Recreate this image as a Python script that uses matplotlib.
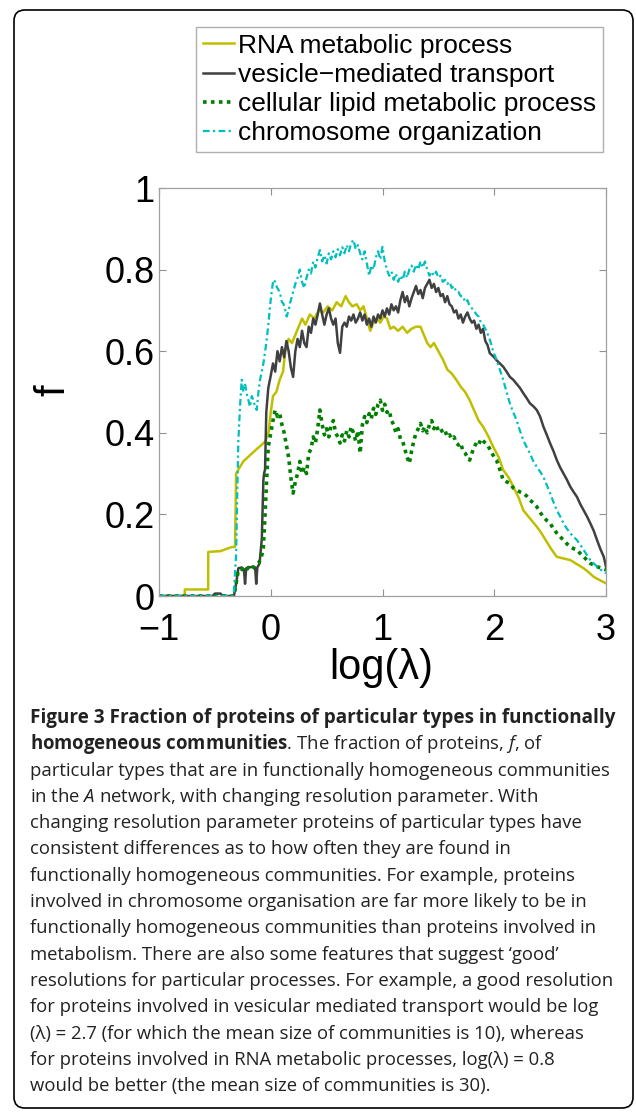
import matplotlib
matplotlib.use("Agg")
import matplotlib.pyplot as plt
from matplotlib.patches import FancyBboxPatch

# ------------------------------------------------------------------
# data (x = log(lambda), y = f)
# ------------------------------------------------------------------
rna_x = [-1.0, -0.77, -0.769, -0.56, -0.559, -0.45, -0.35, -0.32, -0.315, -0.31, -0.29,
         -0.245, -0.186, -0.126, -0.051, -0.02, 0.0, 0.02, 0.05, 0.08, 0.11, 0.13, 0.16,
         0.19, 0.22, 0.25, 0.28, 0.31, 0.35, 0.39, 0.43, 0.47, 0.51, 0.55, 0.59, 0.63,
         0.67, 0.70, 0.73, 0.77, 0.80, 0.83, 0.86, 0.89, 0.92, 0.95, 0.98, 1.01, 1.04,
         1.07, 1.10, 1.14, 1.18, 1.22, 1.26, 1.30, 1.34, 1.37, 1.40, 1.43, 1.46, 1.50,
         1.54, 1.58, 1.62, 1.66, 1.70, 1.74, 1.78, 1.82, 1.86, 1.90, 1.95, 1.99, 2.04,
         2.08, 2.13, 2.17, 2.22, 2.26, 2.32, 2.38, 2.42, 2.46, 2.51, 2.56, 2.62, 2.68,
         2.74, 2.80, 2.85, 2.89, 2.95, 3.0]
rna_f = [0, 0, 0.016, 0.016, 0.108, 0.11, 0.12, 0.12, 0.2, 0.30, 0.31,
         0.33, 0.345, 0.36, 0.378, 0.40, 0.45, 0.49, 0.50, 0.53, 0.55, 0.60, 0.63,
         0.62, 0.64, 0.66, 0.68, 0.665, 0.69, 0.68, 0.70, 0.695, 0.71, 0.70, 0.72, 0.71,
         0.735, 0.72, 0.71, 0.715, 0.70, 0.71, 0.68, 0.65, 0.67, 0.68, 0.67, 0.685, 0.68,
         0.655, 0.66, 0.65, 0.66, 0.645, 0.655, 0.66, 0.66, 0.64, 0.62, 0.61, 0.62, 0.60,
         0.58, 0.555, 0.545, 0.53, 0.513, 0.50, 0.48, 0.455, 0.43, 0.415, 0.39, 0.366, 0.34,
         0.309, 0.29, 0.268, 0.24, 0.21, 0.19, 0.17, 0.155, 0.137, 0.115, 0.096, 0.092, 0.088,
         0.078, 0.068, 0.057, 0.047, 0.038, 0.031]

ves_x = [-1.0, -0.52, -0.5, -0.45, -0.43, -0.33, -0.31, -0.29, -0.26, -0.24, -0.23, -0.22,
         -0.19, -0.16, -0.14, -0.13, -0.12, -0.10, -0.08, -0.07, -0.066, -0.06, -0.051,
         -0.04, -0.022,
         0.00, 0.02, 0.04, 0.06, 0.08, 0.10, 0.12, 0.14, 0.16, 0.18,
         0.20, 0.22, 0.24, 0.26, 0.28, 0.30, 0.32, 0.34, 0.36, 0.38,
         0.40, 0.42, 0.44, 0.46, 0.48, 0.50, 0.52, 0.54, 0.56, 0.58,
         0.60, 0.62, 0.64, 0.66, 0.68, 0.70, 0.72, 0.74, 0.76, 0.78,
         0.80, 0.82, 0.84, 0.86, 0.88, 0.90, 0.92, 0.94, 0.96, 0.98,
         1.00, 1.02, 1.04, 1.06, 1.08, 1.10, 1.12, 1.14, 1.16, 1.18,
         1.20, 1.22, 1.24, 1.26, 1.28, 1.30, 1.32, 1.34, 1.36, 1.38,
         1.40, 1.42, 1.44, 1.46, 1.48, 1.50, 1.52, 1.54, 1.56, 1.58,
         1.60, 1.62, 1.64, 1.66, 1.68, 1.70, 1.72, 1.74, 1.76, 1.78,
         1.80, 1.82, 1.84, 1.86, 1.88, 1.90, 1.92, 1.94, 1.96, 1.98,
         2.00, 2.02, 2.05, 2.08, 2.11, 2.14, 2.17, 2.20, 2.23, 2.26, 2.29, 2.32, 2.35, 2.38,
         2.41, 2.44, 2.47, 2.50, 2.53, 2.56, 2.59, 2.62, 2.65, 2.68, 2.71, 2.74, 2.77, 2.80,
         2.83, 2.86, 2.89, 2.92, 2.95, 2.98, 3.0]
ves_f = [0, 0, 0.006, 0.006, 0, 0, 0.03, 0.068, 0.07, 0.065, 0.03, 0.068,
         0.07, 0.072, 0.07, 0.03, 0.07, 0.08, 0.14, 0.25, 0.284, 0.30, 0.31,
         0.45, 0.51,
         0.54, 0.57, 0.55, 0.60, 0.575, 0.61, 0.585, 0.625, 0.60, 0.56,
         0.537, 0.60, 0.63, 0.61, 0.65, 0.62, 0.61, 0.66, 0.645, 0.68,
         0.665, 0.69, 0.717, 0.69, 0.665, 0.69, 0.705, 0.68, 0.665, 0.68,
         0.62, 0.596, 0.66, 0.67, 0.66, 0.685, 0.675, 0.69, 0.67, 0.68,
         0.695, 0.675, 0.69, 0.665, 0.68, 0.66, 0.685, 0.67, 0.69, 0.68,
         0.70, 0.685, 0.705, 0.69, 0.715, 0.70, 0.71, 0.695, 0.725, 0.745,
         0.72, 0.735, 0.71, 0.73, 0.745, 0.76, 0.74, 0.75, 0.73, 0.755,
         0.765, 0.775, 0.755, 0.765, 0.745, 0.755, 0.735, 0.74, 0.72, 0.735,
         0.715, 0.71, 0.695, 0.70, 0.68, 0.69, 0.67, 0.685, 0.695, 0.68,
         0.67, 0.675, 0.655, 0.665, 0.645, 0.655, 0.625, 0.615, 0.595, 0.59,
         0.585, 0.578, 0.57, 0.562, 0.55, 0.537, 0.53, 0.52, 0.51, 0.497, 0.485, 0.472, 0.465, 0.456,
         0.44, 0.415, 0.395, 0.374, 0.355, 0.333, 0.315, 0.30, 0.285, 0.268, 0.255, 0.243, 0.225, 0.21,
         0.195, 0.178, 0.16, 0.137, 0.115, 0.096, 0.072]

lip_x = [-1.0, -0.33, -0.31, -0.29, -0.26, -0.23, -0.20, -0.17, -0.14, -0.11, -0.096, -0.08,
         -0.066, -0.051, -0.037, -0.022,
         0.00, 0.02, 0.04, 0.06, 0.08, 0.10, 0.12, 0.14, 0.16, 0.18,
         0.20, 0.22, 0.24, 0.26, 0.28, 0.30, 0.32, 0.34, 0.36, 0.38,
         0.40, 0.42, 0.44, 0.46, 0.48, 0.50, 0.52, 0.54, 0.56, 0.58,
         0.60, 0.62, 0.64, 0.66, 0.68, 0.70, 0.72, 0.74, 0.76, 0.78,
         0.80, 0.82, 0.84, 0.86, 0.88, 0.90, 0.92, 0.94, 0.96, 0.98,
         1.00, 1.02, 1.04, 1.06, 1.08, 1.10, 1.12, 1.14, 1.16, 1.18,
         1.20, 1.22, 1.24, 1.26, 1.28, 1.30, 1.32, 1.34, 1.36, 1.38,
         1.40, 1.42, 1.44, 1.46, 1.48, 1.50, 1.52, 1.54, 1.56, 1.58,
         1.60, 1.62, 1.64, 1.66, 1.68, 1.70, 1.72, 1.74, 1.76, 1.78,
         1.80, 1.82, 1.84, 1.86, 1.88, 1.90, 1.92, 1.94, 1.96, 1.98,
         2.00, 2.02, 2.05, 2.08, 2.11, 2.14, 2.17, 2.20, 2.23, 2.26, 2.29, 2.32, 2.35, 2.38,
         2.41, 2.44, 2.47, 2.50, 2.53, 2.56, 2.59, 2.62, 2.65, 2.68, 2.71, 2.74, 2.77, 2.80,
         2.83, 2.86, 2.89, 2.92, 2.96, 3.0]
lip_f = [0, 0, 0.03, 0.064, 0.066, 0.06, 0.07, 0.065, 0.075, 0.08, 0.088, 0.10,
         0.12, 0.20, 0.284, 0.366,
         0.40, 0.43, 0.456, 0.44, 0.447, 0.42, 0.40, 0.37, 0.34, 0.29,
         0.252, 0.28, 0.30, 0.33, 0.30, 0.315, 0.30, 0.35, 0.36, 0.39,
         0.375, 0.41, 0.456, 0.42, 0.395, 0.41, 0.39, 0.42, 0.43, 0.40,
         0.39, 0.375, 0.395, 0.38, 0.405, 0.39, 0.415, 0.40, 0.38, 0.405,
         0.35, 0.42, 0.44, 0.425, 0.447, 0.435, 0.46, 0.445, 0.47, 0.48,
         0.455, 0.47, 0.45, 0.455, 0.43, 0.42, 0.40, 0.41, 0.385, 0.38,
         0.36, 0.34, 0.325, 0.355, 0.38, 0.40, 0.41, 0.423, 0.405, 0.415,
         0.40, 0.42, 0.43, 0.41, 0.42, 0.405, 0.41, 0.40, 0.405, 0.39,
         0.395, 0.385, 0.39, 0.375, 0.37, 0.375, 0.355, 0.35, 0.34, 0.333,
         0.35, 0.365, 0.375, 0.37, 0.385, 0.38, 0.375, 0.37, 0.36, 0.35,
         0.34, 0.333, 0.31, 0.284, 0.28, 0.276, 0.265, 0.26, 0.255, 0.252, 0.245, 0.235, 0.228, 0.219,
         0.205, 0.194, 0.185, 0.178, 0.165, 0.154, 0.145, 0.137, 0.128, 0.121, 0.116, 0.113, 0.104, 0.096,
         0.088, 0.08, 0.076, 0.072, 0.068, 0.064]

chr_x = [-1.0, -0.34, -0.33, -0.31, -0.30, -0.29, -0.275, -0.26, -0.245, -0.23, -0.216, -0.20,
         -0.186, -0.17, -0.156, -0.14, -0.126, -0.11, -0.096, -0.08, -0.066, -0.05, -0.037,
         -0.02, -0.007, 0.01, 0.023, 0.04, 0.053, 0.07, 0.083, 0.10, 0.113, 0.13, 0.142, 0.16,
         0.172, 0.185,
         0.20, 0.22, 0.24, 0.26, 0.28, 0.30, 0.32, 0.34, 0.36, 0.38,
         0.40, 0.42, 0.44, 0.46, 0.48, 0.50, 0.52, 0.54, 0.56, 0.58,
         0.60, 0.62, 0.64, 0.66, 0.68, 0.70, 0.72, 0.74, 0.76, 0.78,
         0.80, 0.82, 0.84, 0.86, 0.88, 0.90, 0.92, 0.94, 0.96, 0.98,
         1.00, 1.02, 1.04, 1.06, 1.08, 1.10, 1.12, 1.14, 1.16, 1.18,
         1.20, 1.22, 1.24, 1.26, 1.28, 1.30, 1.32, 1.34, 1.36, 1.38,
         1.40, 1.42, 1.44, 1.46, 1.48, 1.50, 1.52, 1.54, 1.56, 1.58,
         1.60, 1.62, 1.64, 1.66, 1.68, 1.70, 1.72, 1.74, 1.76, 1.78,
         1.80, 1.82, 1.84, 1.86, 1.88, 1.90,
         1.93, 1.962, 1.99, 2.022, 2.05, 2.08, 2.11, 2.14, 2.17, 2.20, 2.23, 2.26, 2.29, 2.32,
         2.35, 2.38, 2.41, 2.44, 2.47, 2.50, 2.53, 2.56, 2.59, 2.62, 2.65, 2.68, 2.71, 2.74,
         2.77, 2.80, 2.83, 2.86, 2.89, 2.92, 2.96, 3.0]
chr_f = [0, 0, 0.01, 0.1, 0.25, 0.38, 0.464, 0.53, 0.50, 0.52, 0.497, 0.48,
         0.464, 0.49, 0.48, 0.465, 0.456, 0.50, 0.53, 0.55, 0.57, 0.60, 0.627,
         0.67, 0.709, 0.75, 0.775, 0.77, 0.758, 0.75, 0.742, 0.72, 0.717, 0.70, 0.685, 0.70,
         0.717, 0.73,
         0.745, 0.765, 0.78, 0.80, 0.77, 0.755, 0.78, 0.80, 0.79, 0.82,
         0.805, 0.83, 0.848, 0.82, 0.835, 0.815, 0.84, 0.825, 0.845, 0.83,
         0.85, 0.835, 0.855, 0.84, 0.86, 0.845, 0.865, 0.873, 0.85, 0.86,
         0.84, 0.825, 0.845, 0.815, 0.785, 0.81, 0.80, 0.83, 0.845, 0.825,
         0.856, 0.82, 0.80, 0.785, 0.795, 0.775, 0.79, 0.77, 0.785, 0.775,
         0.795, 0.78, 0.80, 0.81, 0.795, 0.812, 0.80, 0.82, 0.805, 0.82,
         0.80, 0.785, 0.795, 0.785, 0.795, 0.78, 0.785, 0.77, 0.775, 0.765,
         0.77, 0.755, 0.76, 0.745, 0.745, 0.735, 0.735, 0.72, 0.725, 0.71,
         0.705, 0.70, 0.69, 0.685, 0.67, 0.665,
         0.65, 0.627, 0.60, 0.578, 0.555, 0.53, 0.50, 0.472, 0.45, 0.431, 0.405, 0.382, 0.365, 0.349,
         0.33, 0.317, 0.305, 0.292, 0.272, 0.252, 0.23, 0.21, 0.195, 0.178, 0.165, 0.154, 0.145, 0.137,
         0.125, 0.113, 0.10, 0.088, 0.08, 0.072, 0.063, 0.056]

series_labels = ['RNA metabolic process', 'vesicle\u2212mediated transport',
                 'cellular lipid metabolic process', 'chromosome organization']

x_ticks = [-1, 0, 1, 2, 3]
y_ticks = [0, 0.2, 0.4, 0.6, 0.8, 1]
y_ticklabels = ['0', '0.2', '0.4', '0.6', '0.8', '1']

caption_lines = [
    r"Figure 3 Fraction of proteins of particular types in functionally",
    r"$\mathbf{homogeneous\ communities}$. The fraction of proteins, $\mathit{f}$, of",
    r"particular types that are in functionally homogeneous communities",
    r"in the $\mathit{A}$ network, with changing resolution parameter. With",
    r"changing resolution parameter proteins of particular types have",
    r"consistent differences as to how often they are found in",
    r"functionally homogeneous communities. For example, proteins",
    r"involved in chromosome organisation are far more likely to be in",
    r"functionally homogeneous communities than proteins involved in",
    r"metabolism. There are also some features that suggest ‘good’",
    r"resolutions for particular processes. For example, a good resolution",
    r"for proteins involved in vesicular mediated transport would be log",
    r"(λ) = 2.7 (for which the mean size of communities is 10), whereas",
    r"for proteins involved in RNA metabolic processes, log(λ) = 0.8",
    r"would be better (the mean size of communities is 30).",
]

# ------------------------------------------------------------------
plt.rcParams['font.family'] = ['Liberation Sans', 'DejaVu Sans']
plt.rcParams['mathtext.fontset'] = 'custom'
plt.rcParams['mathtext.rm'] = 'Open Sans'
plt.rcParams['mathtext.it'] = 'Open Sans:italic'
plt.rcParams['mathtext.bf'] = 'Open Sans:bold'

W, H = 636, 1114
def fx(px):
    return px / W
def fy(py):
    return 1 - py / H

fig = plt.figure(figsize=(W / 100, H / 100), dpi=100)

# rounded frame around the whole figure + caption
frame = FancyBboxPatch((fx(14), fy(1108)), fx(633) - fx(14), fy(10) - fy(1108),
                       boxstyle="round,pad=0,rounding_size=0.017", mutation_aspect=W / H,
                       transform=fig.transFigure, facecolor='none', edgecolor='black',
                       linewidth=1.2, zorder=-1)
fig.patches.append(frame)

ax = fig.add_axes([fx(159), fy(596), fx(606) - fx(159), fy(188) - fy(596)])
ax.plot(rna_x, rna_f, color='#BFBF00', lw=1.8, label=series_labels[0])
ax.plot(ves_x, ves_f, color='#404040', lw=1.8, label=series_labels[1])
ax.plot(lip_x, lip_f, color='#008000', lw=2.6, ls=(0, (1, 1.2)), label=series_labels[2])
ax.plot(chr_x, chr_f, color='#00BFBF', lw=1.6, ls=(0, (3, 1.5, 1, 1.5)), label=series_labels[3])

ax.set_xlim(-1, 3)
ax.set_ylim(0, 1)
ax.set_xticks(x_ticks)
ax.set_yticks(y_ticks)
ax.set_yticklabels(y_ticklabels)
for sp in ax.spines.values():
    sp.set_color('#a0a0a0')
    sp.set_linewidth(0.9)
ax.tick_params(direction='in', length=5, width=0.8, color='#909090', top=True, right=True,
               labelsize=26, labelcolor='black')
ax.tick_params(axis='x', pad=12)
ax.tick_params(axis='y', pad=3)

fig.text(fx(381), fy(668), 'log(λ)', ha='center', va='center', fontsize=30)
fig.text(fx(53), fy(390), 'f', ha='center', va='center', rotation=90, fontsize=30)

leg = fig.legend(loc='upper left', bbox_to_anchor=(fx(196), fy(27)), fontsize=19,
                 handlelength=1.2, handletextpad=0.15, borderpad=0.25, labelspacing=0.2,
                 borderaxespad=0, fancybox=False, framealpha=1)
leg.get_frame().set_edgecolor('#b0b0b0')
leg.get_frame().set_linewidth(1.0)

# caption
for i, line in enumerate(caption_lines):
    fig.text(fx(30), fy(723 + i * 26.3), line, ha='left', va='baseline',
             fontsize=13.6 if i == 0 else 13.35, family='Open Sans', color='#222222',
             fontweight='bold' if i == 0 else 'normal')

fig.savefig("out.png", dpi=100, facecolor='white')
